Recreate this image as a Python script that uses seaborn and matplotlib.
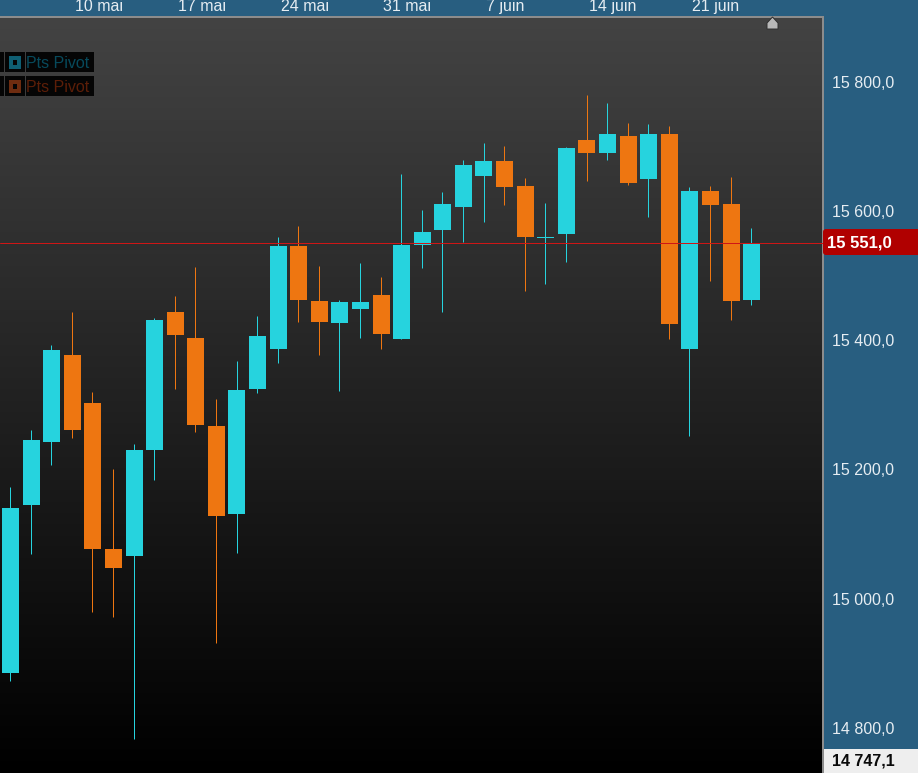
import numpy as np
import pandas as pd
import seaborn as sns
import matplotlib.pyplot as plt
from matplotlib.colors import LinearSegmentedColormap
from matplotlib.patches import FancyBboxPatch, Polygon, Rectangle
from matplotlib.transforms import Affine2D, IdentityTransform

# Candles
highs = [15174, 15262, 15394, 15445, 15321, 15202, 15240, 15435, 15470, 15514, 15310, 15369, 15439,
         15561, 15578, 15516, 15463, 15521, 15499, 15658, 15603, 15630, 15680, 15706, 15702, 15652,
         15613, 15700, 15781, 15768, 15737, 15736, 15733, 15638, 15640, 15654, 15575]
body_tops = [15141, 15247, 15386, 15378, 15304, 15078, 15231, 15432, 15445, 15405, 15268, 15324, 15408,
             15547, 15547, 15462, 15460, 15460, 15471, 15548, 15569, 15612, 15672, 15678, 15678, 15640,
             15561, 15699, 15711, 15720, 15717, 15720, 15720, 15632, 15632, 15612, 15551]
body_bottoms = [14886, 15146, 15243, 15262, 15078, 15048, 15067, 15231, 15409, 15270, 15129, 15132, 15326,
                15387, 15463, 15429, 15428, 15449, 15411, 15403, 15548, 15572, 15607, 15655, 15638, 15561,
                15560, 15566, 15691, 15691, 15644, 15651, 15426, 15387, 15610, 15462, 15463]
lows = [14874, 15070, 15208, 15250, 14980, 14973, 14784, 15185, 15326, 15259, 14932, 15072, 15319,
        15366, 15429, 15378, 15322, 15405, 15387, 15403, 15513, 15445, 15553, 15584, 15610, 15477,
        15488, 15522, 15648, 15680, 15641, 15592, 15403, 15253, 15493, 15432, 15456]
sides = ['up', 'up', 'up', 'down', 'down', 'down', 'up', 'up', 'down', 'down', 'down', 'up', 'up',
         'up', 'down', 'down', 'up', 'up', 'down', 'up', 'up', 'up', 'up', 'up', 'down', 'down',
         'up', 'up', 'down', 'up', 'down', 'up', 'down', 'up', 'down', 'down', 'up']

date_positions = [4, 9, 14, 19, 24, 29, 34]
date_labels = ['10 mai', '17 mai', '24 mai', '31 mai', '7 juin', '14 juin', '21 juin']
price_ticks = [14800, 15000, 15200, 15400, 15600, 15800]
price_labels = ['14 800,0', '15 000,0', '15 200,0', '15 400,0', '15 600,0', '15 800,0']
last_price = 15551.0
low_label = '14 747,1'

PANEL = '#285e80'
CYAN = '#26d3de'
ORANGE = '#ee7611'
W, H = 918, 773

sns.set_theme(style='dark')
plt.rcParams['font.family'] = ['Liberation Sans', 'DejaVu Sans']

df = pd.DataFrame({'i': range(len(highs)), 'high': highs, 'top': body_tops,
                   'bottom': body_bottoms, 'low': lows, 'side': sides})
df['height'] = df['top'] - df['bottom']

fig = plt.figure(figsize=(W / 100, H / 100), dpi=100, facecolor=PANEL)
ax = fig.add_axes([0, 0, 823 / W, (H - 17) / H])


def fx(x):
    return x / W


def fy(y):
    return 1 - y / H


# Background fade
fade = LinearSegmentedColormap.from_list('fade', ['#000000', '#434343'])
ax.imshow(np.linspace(1, 0, 256).reshape(-1, 1), extent=[0, 1, 0, 1], transform=ax.transAxes,
          aspect='auto', cmap=fade, zorder=0)

# Wicks, then bodies
wick_shift = Affine2D().translate(-0.4, 0)
for side, color in [('up', CYAN), ('down', ORANGE)]:
    sub = df[df['side'] == side]
    ax.vlines(sub['i'], sub['low'], sub['high'], color=color, lw=0.72, zorder=2,
              transform=ax.transData + wick_shift)
    sns.barplot(data=sub, x='i', y='height', bottom=sub['bottom'].values, native_scale=True,
                color=color, saturation=1, width=0.8258, linewidth=0, errorbar=None, ax=ax, zorder=3)

ax.axhline(last_price, color='#cf1616', lw=0.72, zorder=4)

ax.set_xlim(-0.5115, 39.469)
ax.set_ylim(14731.1, 15901.4)
ax.set_xlabel('')
ax.set_ylabel('')
ax.set_xticks([])
ax.yaxis.tick_right()
ax.set_yticks(price_ticks)
ax.set_yticklabels(price_labels, fontsize=11.5, color='#e6edf2')
ax.tick_params(axis='y', length=0, pad=6.5)
for lbl in ax.get_yticklabels():
    lbl.set_transform(lbl.get_transform() + Affine2D().translate(0, 0.7))
ax.grid(False)
for name, spine in ax.spines.items():
    spine.set_visible(name in ('top', 'right'))
    spine.set_color('#8c8c8c')
    spine.set_linewidth(1.44)

for pos, label in zip(date_positions, date_labels):
    ax.annotate(label, xy=(pos, 1), xycoords=('data', 'axes fraction'), xytext=(-13.1, 4.4),
                textcoords='offset points', ha='left', va='baseline', fontsize=11.5,
                color='#e6edf2', annotation_clip=False)

# Price tags on the right
fig.add_artist(FancyBboxPatch((823, H - 255), 110, 26, boxstyle='round,pad=0,rounding_size=3',
                              transform=IdentityTransform(), facecolor='#b00000', edgecolor='none'))
fig.text(fx(827), fy(243), '15 551,0', fontsize=12.1, fontweight='bold', color='white',
         ha='left', va='center')
fig.add_artist(Rectangle((fx(824), fy(773)), 94 / W, 24 / H, transform=fig.transFigure,
                         facecolor='#eeeeee', edgecolor='none'))
fig.text(fx(832), fy(761), low_label, fontsize=11.5, fontweight='bold', color='#0a0a0a',
         ha='left', va='center')

# Indicator badges
for top, icon_color, text_color in [(52, '#0f5f73', '#074a5c'), (76, '#6e2c10', '#5c1e08')]:
    for x0, x1 in [(0, 4), (5, 25), (26, 94)]:
        fig.add_artist(Rectangle((fx(x0), fy(top + 20)), (x1 - x0) / W, 20 / H,
                                 transform=fig.transFigure, facecolor='#050505', edgecolor='none'))
    fig.add_artist(Rectangle((fx(9), fy(top + 17)), 12 / W, 13 / H, transform=fig.transFigure,
                             facecolor=icon_color, edgecolor='none'))
    fig.add_artist(Rectangle((fx(13), fy(top + 13)), 4 / W, 5 / H, transform=fig.transFigure,
                             facecolor='#050505', edgecolor='none'))
    fig.text(fx(26), fy(top + 11.5), 'Pts Pivot', fontsize=11.5, color=text_color, ha='left', va='center')

# Small home marker under the top edge
home = [(772.5, 17), (778, 23), (778, 29), (767, 29), (767, 23)]
fig.add_artist(Polygon([(fx(x), fy(y)) for x, y in home], closed=True, transform=fig.transFigure,
                       facecolor='#b8b8b8', edgecolor='#303030', lw=0.7))

fig.savefig('out.png', dpi=100, facecolor=fig.get_facecolor())
